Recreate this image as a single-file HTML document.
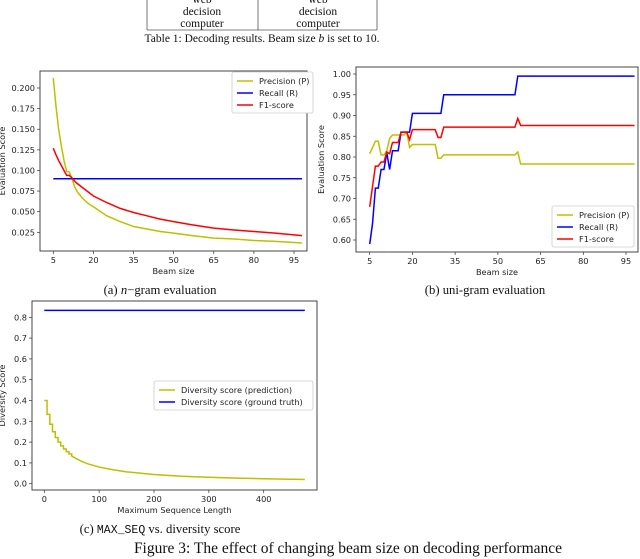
<!DOCTYPE html>
<html><head><meta charset="utf-8">
<style>
html,body{margin:0;padding:0;background:#fff;width:640px;height:559px;overflow:hidden}
svg{display:block}
.tk{font-family:"DejaVu Sans","Liberation Sans",sans-serif;font-size:8.2px;fill:#222}
.cap{font-family:"Liberation Serif",serif;font-size:11.5px;fill:#111}
.cap2{font-family:"Liberation Serif",serif;font-size:12.7px;fill:#111}
.mono{font-family:"Liberation Mono",monospace;font-size:11.5px}
</style></head>
<body>
<svg id="svg" width="640" height="559" viewBox="0 0 640 559" xmlns="http://www.w3.org/2000/svg">
<g>
<line x1="147" y1="0" x2="147" y2="30" stroke="#555" stroke-width="0.8"/>
<line x1="258" y1="0" x2="258" y2="30" stroke="#555" stroke-width="0.8"/>
<line x1="377" y1="0" x2="377" y2="30" stroke="#555" stroke-width="0.8"/>
<line x1="147" y1="30" x2="377" y2="30" stroke="#555" stroke-width="0.8"/>
<text class="cap" x="202" y="3" text-anchor="middle">web</text>
<text class="cap" x="202" y="15" text-anchor="middle">decision</text>
<text class="cap" x="202" y="27" text-anchor="middle">computer</text>
<text class="cap" x="318" y="3" text-anchor="middle">web</text>
<text class="cap" x="318" y="15" text-anchor="middle">decision</text>
<text class="cap" x="318" y="27" text-anchor="middle">computer</text>
<text class="cap" x="262" y="42" text-anchor="middle">Table 1:  Decoding results. Beam size <tspan font-style="italic">b</tspan> is set to 10.</text>
</g>
<text class="cap2" x="160" y="294" text-anchor="middle">(a) <tspan font-style="italic">n</tspan>−gram evaluation</text>
<text class="cap2" x="485" y="294" text-anchor="middle">(b) uni-gram evaluation</text>
<text class="cap2" x="160" y="533" text-anchor="middle">(c) <tspan class="mono">MAX_SEQ</tspan> vs. diversity score</text>
<text class="cap" x="348" y="553" text-anchor="middle" style="font-size:15.5px">Figure 3: The effect of changing beam size on decoding performance</text>
</svg>
<script>
// Chart A data
const aBeam=[5,6,7,8,9,10,11,12,13,14,16,18,20,25,30,35,40,45,50,57,65,72,80,88,98];
const aPrec=[0.212,0.178,0.15,0.13,0.112,0.099,0.098,0.09,0.08,0.074,0.066,0.06,0.056,0.045,0.038,0.032,0.029,0.026,0.024,0.021,0.018,0.017,0.015,0.014,0.012];
const aF1=[0.127,0.119,0.112,0.106,0.1,0.094,0.094,0.091,0.087,0.084,0.079,0.074,0.069,0.061,0.054,0.049,0.045,0.041,0.038,0.034,0.030,0.028,0.026,0.024,0.021];
const aRecBeam=[5,98];
const aRec=[0.090,0.090];
const aYTicks=[0.025,0.050,0.075,0.100,0.125,0.150,0.175,0.200];
const abXTicks=[5,20,35,50,65,80,95];
// Chart B data
const bPrecX=[5,7,8,9,10,11,12,13,17,18,19,20,28,29,30,31,56,57,58,98];
const bPrec=[0.808,0.838,0.838,0.805,0.805,0.815,0.845,0.853,0.853,0.86,0.823,0.83,0.83,0.797,0.797,0.805,0.805,0.812,0.783,0.783];
const bRecX=[5,6,7,8,9,10,11,12,13,15,16,19,20,30,31,56,57,98];
const bRec=[0.59,0.64,0.725,0.725,0.77,0.77,0.81,0.77,0.815,0.815,0.86,0.86,0.905,0.905,0.95,0.95,0.995,0.995];
const bF1X=[5,7,8,9,10,11,12,13,15,16,18,19,20,28,29,30,31,56,57,58,98];
const bF1=[0.68,0.778,0.778,0.788,0.788,0.812,0.808,0.835,0.835,0.86,0.86,0.842,0.866,0.866,0.847,0.847,0.872,0.872,0.893,0.876,0.876];
const bYTicks=[0.60,0.65,0.70,0.75,0.80,0.85,0.90,0.95,1.00];
// Chart C data
const cLen=[0,5,10,15,20,25,30,35,40,45,50,60,70,80,100,125,150,200,250,300,350,400,475];
const cPred=[0.4,0.333,0.286,0.25,0.222,0.2,0.182,0.167,0.154,0.143,0.133,0.118,0.105,0.095,0.08,0.067,0.057,0.044,0.036,0.031,0.027,0.024,0.02];
const cTruthX=[0,475];
const cTruth=[0.833,0.833];
const cYTicks=[0.0,0.1,0.2,0.3,0.4,0.5,0.6,0.7,0.8];
const cXTicks=[0,100,200,300,400];

const svg=document.getElementById('svg');
const NS='http://www.w3.org/2000/svg';
function mk(tag,attrs,parent){const e=document.createElementNS(NS,tag);for(const k in attrs)e.setAttribute(k,attrs[k]);(parent||svg).appendChild(e);return e;}
function lin(d0,d1,r0,r1){return v=>r0+(v-d0)/(d1-d0)*(r1-r0);}

function axes(g,box,xs,ys,xt,yt,fmtx,fmty,xlab,ylab,yLabX){
  mk('rect',{x:box.l,y:box.t,width:box.r-box.l,height:box.b-box.t,fill:'none',stroke:'#333','stroke-width':0.9},g);
  xt.forEach(v=>{const x=xs(v);
    mk('line',{x1:x,y1:box.b,x2:x,y2:box.b+3,stroke:'#333','stroke-width':0.7},g);
    const t=mk('text',{x:x,y:box.b+12,class:'tk','text-anchor':'middle'},g);t.textContent=fmtx(v);
    
    });
  yt.forEach(v=>{const y=ys(v);
    mk('line',{x1:box.l-3,y1:y,x2:box.l,y2:y,stroke:'#333','stroke-width':0.7},g);
    const t=mk('text',{x:box.l-5,y:y+3,class:'tk','text-anchor':'end'},g);t.textContent=fmty(v);
    
    });
  const xl=mk('text',{x:(box.l+box.r)/2,y:box.b+23,class:'tk','text-anchor':'middle'},g);xl.textContent=xlab;
  
  
  const cy=(box.t+box.b)/2;
  const yl=mk('text',{x:yLabX,y:cy,class:'tk','text-anchor':'middle',transform:`rotate(-90 ${yLabX} ${cy})`},g);yl.textContent=ylab;
  
  
}
function line(g,xsArr,ysArr,xs,ys,color,name,step){
  let d='';
  xsArr.forEach((v,i)=>{
    if(i===0){d+=`M${xs(v)},${ys(ysArr[i])}`;}
    else if(step&&step(v)){d+=`H${xs(v)}V${ys(ysArr[i])}`;}
    else d+=`L${xs(v)},${ys(ysArr[i])}`;
  });
  const p=mk('path',{d:d,fill:'none',stroke:color,'stroke-width':1.5},g);
  
  
}
function legend(g,x,y,w,entries){
  const h=entries.length*12+5;
  mk('rect',{x:x,y:y,width:w,height:h,fill:'#fff',stroke:'#ccc','stroke-width':0.8,rx:2},g);
  entries.forEach((e,i)=>{const yy=y+9+i*12;
    const le=mk('g',{},g);
    
    
    mk('line',{x1:x+5,y1:yy,x2:x+21,y2:yy,stroke:e[1],'stroke-width':1.5},le);
    const t=mk('text',{x:x+27,y:yy+3,class:'tk'},le);t.textContent=e[0];});
}
const Y='#bfbf00',B='#0000ff',R='#ff0000';
{const g=mk('g',{});
 const box={l:40,t:71,r:307,b:251};
 const xs=lin(5,95,53.3,294),ys=lin(0.025,0.200,232.3,88);
 axes(g,box,xs,ys,abXTicks,aYTicks,v=>v,v=>v.toFixed(3),'Beam size','Evaluation Score',5);
 line(g,aBeam,aPrec,xs,ys,Y,'precision-line');
 line(g,aRecBeam,aRec,xs,ys,B,'recall-line');
 line(g,aBeam,aF1,xs,ys,R,'f1-line');
 legend(g,232,72,81,[['Precision (P)',Y],['Recall (R)',B],['F1-score',R]]);}
{const g=mk('g',{});
 const box={l:356,t:67,r:638,b:252};
 const xs=lin(5,95,369.7,626),ys=lin(0.60,1.00,240,74);
 axes(g,box,xs,ys,abXTicks,bYTicks,v=>v,v=>v.toFixed(2),'Beam size','Evaluation Score',324);
 line(g,bPrecX,bPrec,xs,ys,Y,'precision-line');
 line(g,bRecX,bRec,xs,ys,B,'recall-line');
 line(g,bF1X,bF1,xs,ys,R,'f1-line');
 legend(g,552,206,82,[['Precision (P)',Y],['Recall (R)',B],['F1-score',R]]);}
{const g=mk('g',{});
 const box={l:32,t:301,r:317,b:490};
 const xs=lin(0,400,44.3,263.7),ys=lin(0,0.8,483.7,317.3);
 axes(g,box,xs,ys,cXTicks,cYTicks,v=>v,v=>v.toFixed(1),'Maximum Sequence Length','Diversity Score',5);
 line(g,cLen,cPred,xs,ys,Y,'prediction-line',v=>v<=50);
 line(g,cTruthX,cTruth,xs,ys,B,'ground-truth-line');
 legend(g,154,381,159,[['Diversity score (prediction)',Y],['Diversity score (ground truth)',B]]);}
</script>
</body></html>
